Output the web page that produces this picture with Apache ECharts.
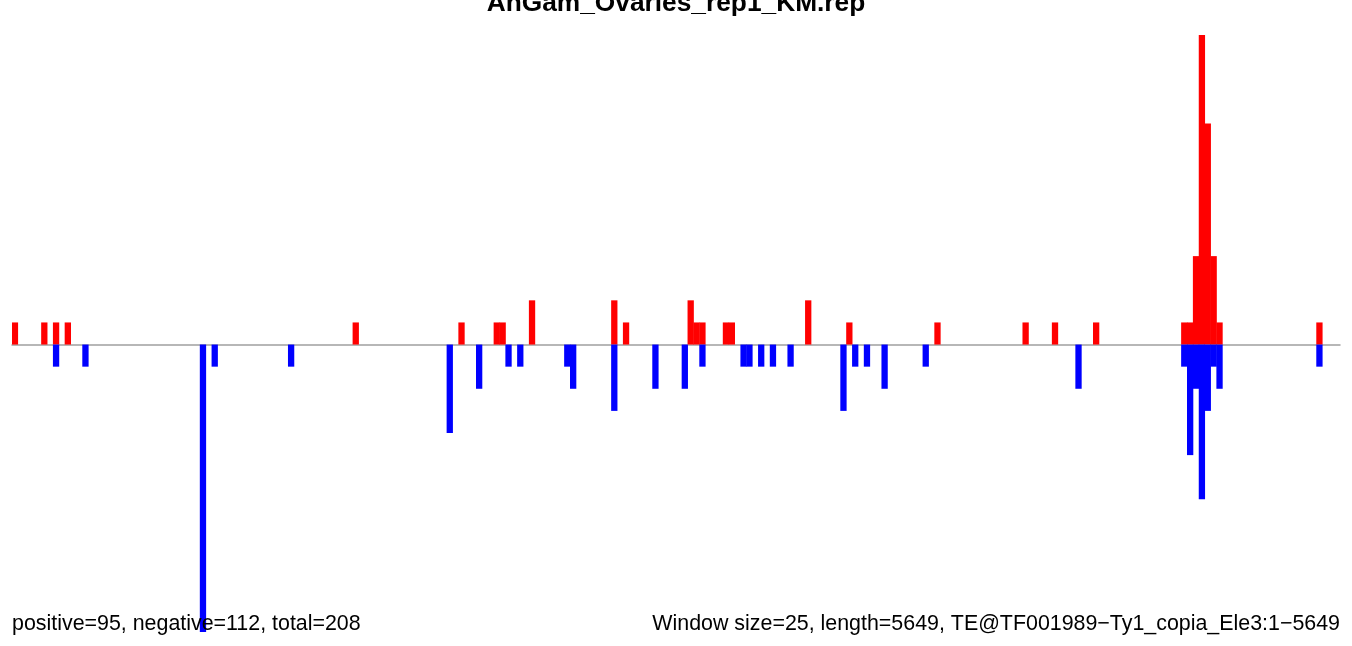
<!DOCTYPE html>
<html>
<head>
<meta charset="utf-8">
<script src="https://cdn.jsdelivr.net/npm/echarts@6/dist/echarts.min.js"></script>
<style>
html,body{margin:0;padding:0;background:#fff;}
#chart{width:1352px;height:646px;}
</style>
</head>
<body>
<div id="chart"></div>
<script>
// ---- data ----
var windowSize = 25;
var seqLength = 5649;
var binCount = 226;
var titleText = "AnGam_Ovaries_rep1_KM.rep";
var leftNote = "positive=95, negative=112, total=208";
var rightNote = "Window size=25, length=5649, TE@TF001989\u2212Ty1_copia_Ele3:1\u22125649";

// positive (sense) bins and heights
var posBins   = [0, 5, 7, 9, 58, 76, 82, 83, 88, 102, 104, 115, 116, 117, 121, 122, 135, 142, 157, 172, 177, 184, 199, 200, 201, 202, 203, 204, 205, 222];
var posValues = [1, 1, 1, 1, 1,  1,  1,  1,  2,  2,   1,   2,   1,   1,   1,   1,   2,   1,   1,   1,   1,   1,   1,   1,   4,   14,  10,  4,   1,   1];
// negative (antisense) bins and heights
var negBins   = [7, 12, 32, 34, 47, 74, 79, 84, 86, 94, 95, 102, 109, 114, 117, 124, 125, 127, 129, 132, 141, 143, 145, 148, 155, 181, 199, 200, 201, 202, 203, 204, 205, 222];
var negValues = [1, 1,  13, 1,  1,  4,  2,  1,  1,  1,  2,  3,   2,   2,   1,   1,   1,   1,   1,   1,   3,   1,   1,   2,   1,   2,   1,   5,   2,   7,   3,   1,   2,   1];

// ---- build series ----
var categories = [];
var posData = [];
var negData = [];
for (var i = 0; i < binCount; i++) {
  categories.push(String(i * windowSize + 1));
  posData.push(0);
  negData.push(0);
}
posBins.forEach(function (b, k) { posData[b] = posValues[k]; });
negBins.forEach(function (b, k) { negData[b] = -negValues[k]; });

var chart = echarts.init(document.getElementById('chart'), null, {renderer: 'canvas'});
var font = '"Liberation Sans", Arial, Helvetica, sans-serif';
chart.setOption({
  animation: false,
  backgroundColor: '#ffffff',
  grid: {left: 12, right: 12, top: 35, bottom: 14, containLabel: false},
  xAxis: {
    type: 'category',
    data: categories,
    boundaryGap: true,
    axisLine: {show: true, onZero: true, lineStyle: {color: '#a0a0a0', width: 1.5}},
    axisTick: {show: false},
    axisLabel: {show: false},
    splitLine: {show: false}
  },
  yAxis: {
    type: 'value',
    min: -13,
    max: 14,
    show: false,
    splitLine: {show: false}
  },
  series: [
    {type: 'bar', name: 'positive', stack: 'all', data: posData, barWidth: 6.3, barGap: '0%',
     itemStyle: {color: '#ff0000'}},
    {type: 'bar', name: 'negative', stack: 'all', data: negData, barWidth: 6.3, barGap: '0%',
     itemStyle: {color: '#0000ff'}}
  ],
  graphic: [
    {type: 'text', left: 'center', top: -9, z: 100,
     style: {text: titleText, font: 'bold 26.3px ' + font, fill: '#000'}},
    {type: 'text', z: 100, x: 12, y: 624.5,
     style: {text: leftNote, font: '21.4px ' + font, fill: '#000', textAlign: 'left', textVerticalAlign: 'middle'}},
    {type: 'text', z: 100, x: 1340, y: 624.5,
     style: {text: rightNote, font: '21.4px ' + font, fill: '#000', textAlign: 'right', textVerticalAlign: 'middle'}}
  ]
});
</script>
</body>
</html>
